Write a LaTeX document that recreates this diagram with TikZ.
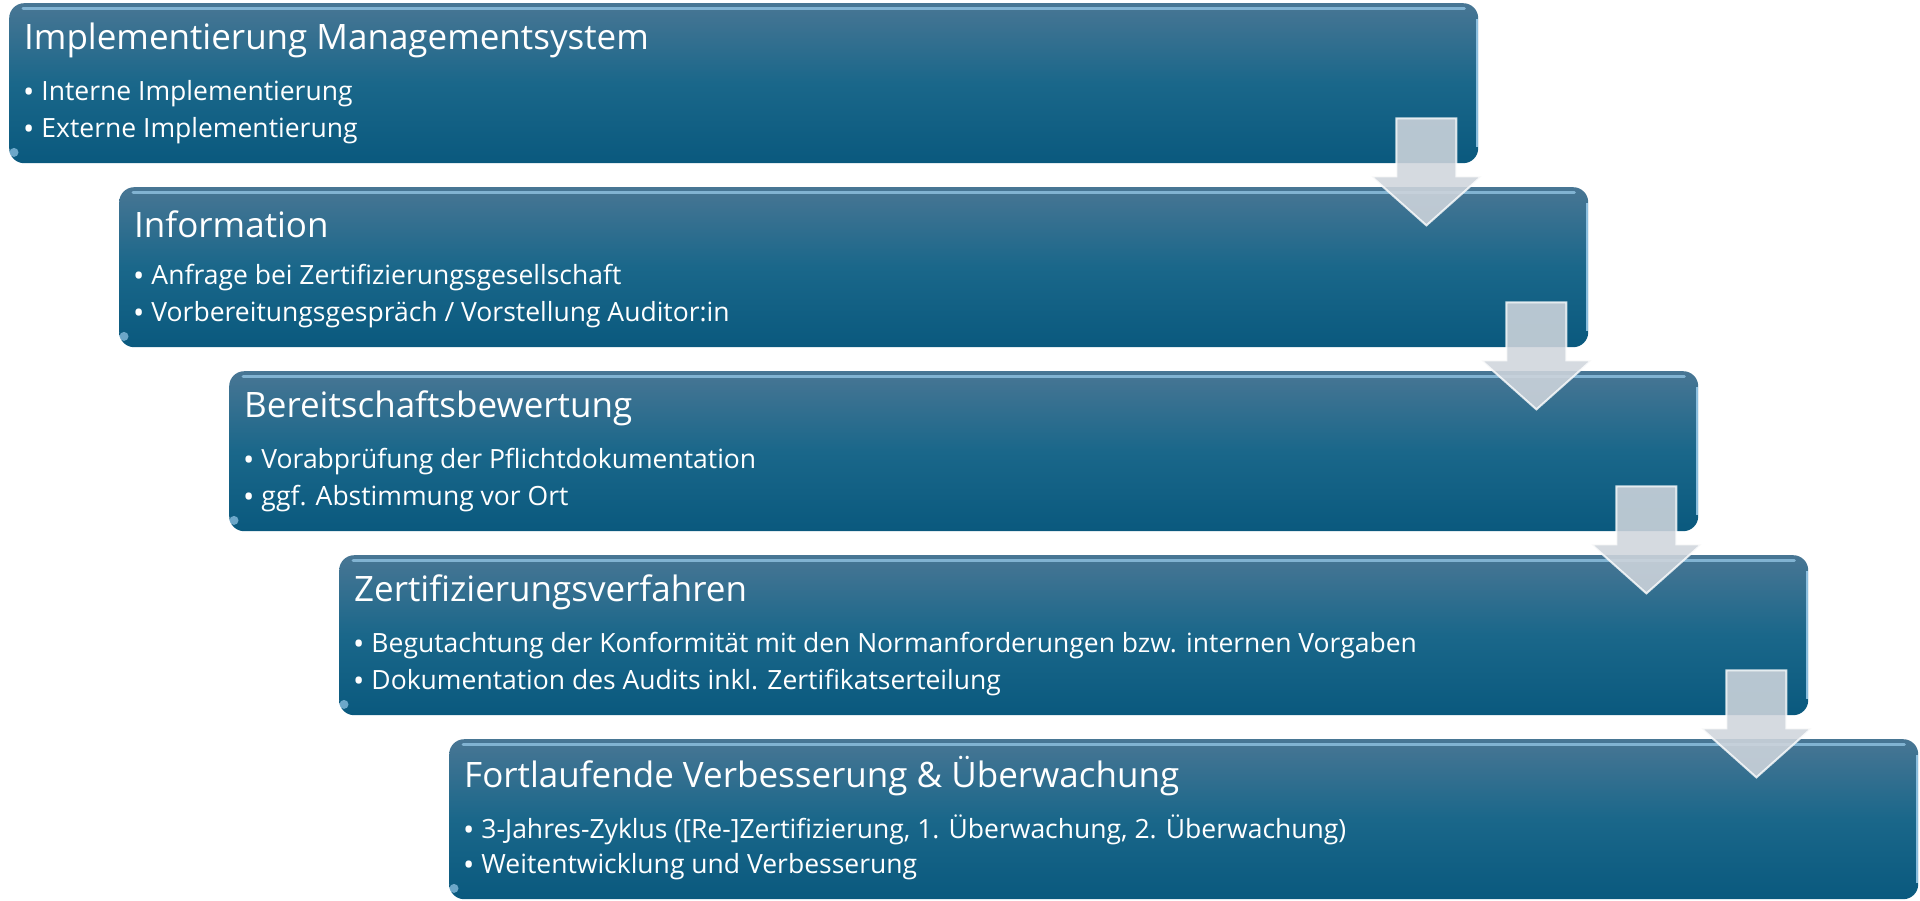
\documentclass[tikz,border=0pt]{standalone}
\usepackage{fontspec}
\setmainfont{Open Sans}
\usetikzlibrary{calc}
\definecolor{boxtop}{RGB}{72,118,148}
\definecolor{boxmid}{RGB}{26,103,138}
\definecolor{boxbot}{RGB}{10,89,126}
\definecolor{arrowfill}{RGB}{207,213,220}
\definecolor{hilite}{RGB}{150,200,232}
\newcommand{\bul}{{\fontsize{30}{30}\selectfont\raisebox{-1.5pt}{\textbullet}}\hspace{7pt}}
\begin{document}
\begin{tikzpicture}[x=1pt,y=-1pt,
  stagebox/.style={draw=none, rounded corners=15pt, minimum width=1469pt,
    minimum height=160pt, anchor=north west, inner sep=0pt,
    top color=boxtop, bottom color=boxbot, middle color=boxmid},
  titletext/.style={anchor=west, inner sep=0pt, text=white, font=\fontsize{35}{40}\selectfont},
  bullettext/.style={anchor=west, inner sep=0pt, text=white, font=\fontsize{26.5}{30}\selectfont},
  blockarrow/.style={fill=arrowfill, fill opacity=0.88, draw=white, draw opacity=0.8,
    line width=2pt, line join=miter},
  topline/.style={hilite, line width=3pt, opacity=0.75, line cap=round},
  sideline/.style={hilite, line width=1.5pt, opacity=0.9}
]
\useasboundingbox (0,0) rectangle (1920,900);

\node[stagebox] (b1) at (9,3) {};
\node[stagebox] (b2) at (119,187) {};
\node[stagebox] (b3) at (229,371) {};
\node[stagebox] (b4) at (339,555) {};
\node[stagebox] (b5) at (449,739) {};

\foreach \b in {b1,b2,b3,b4,b5}{
  \draw[topline] ($(\b.north west)+(14,5)$) -- ($(\b.north east)+(-14,5)$);
  \draw[sideline] ($(\b.north east)+(-1.5,16)$) -- ($(\b.south east)+(-1.5,-16)$);
  \fill[hilite, opacity=0.7] ($(\b.south west)+(5,-11)$) circle (4.5pt);
}

\node[titletext] (t1) at ($(b1.north west)+(15,37)$) {Implementierung Managementsystem};
\node[bullettext] (t1a) at ($(b1.north west)+(14,91)$) {\bul Interne Implementierung};
\node[bullettext] (t1b) at ($(b1.north west)+(14,128)$) {\bul Externe Implementierung};

\node[titletext] (t2) at ($(b2.north west)+(15,37)$) {Information};
\node[bullettext] (t2a) at ($(b2.north west)+(14,91)$) {\bul Anfrage bei Zertifizierungsgesellschaft};
\node[bullettext] (t2b) at ($(b2.north west)+(14,128)$) {\bul Vorbereitungsgespräch / Vorstellung Auditor:in};

\node[titletext] (t3) at ($(b3.north west)+(15,37)$) {Bereitschaftsbewertung};
\node[bullettext] (t3a) at ($(b3.north west)+(14,91)$) {\bul Vorabprüfung der Pflichtdokumentation};
\node[bullettext] (t3b) at ($(b3.north west)+(14,128)$) {\bul ggf. Abstimmung vor Ort};

\node[titletext] (t4) at ($(b4.north west)+(15,37)$) {Zertifizierungsverfahren};
\node[bullettext] (t4a) at ($(b4.north west)+(14,91)$) {\bul Begutachtung der Konformität mit den Normanforderungen bzw. internen Vorgaben};
\node[bullettext] (t4b) at ($(b4.north west)+(14,128)$) {\bul Dokumentation des Audits inkl. Zertifikatserteilung};

\node[titletext] (t5) at ($(b5.north west)+(15,37)$) {Fortlaufende Verbesserung \& Überwachung};
\node[bullettext] (t5a) at ($(b5.north west)+(14,91)$) {\bul 3-Jahres-Zyklus ([Re-]Zertifizierung, 1. Überwachung, 2. Überwachung)};
\node[bullettext] (t5b) at ($(b5.north west)+(14,128)$) {\bul Weitentwicklung und Verbesserung};

\foreach \b in {b1,b2,b3,b4}{
  \path[blockarrow] ($(\b.south east)+(-82,-45)$) -- ++(60,0) -- ++(0,58) -- ++(25,0)
    -- ($(\b.south east)+(-52,62)$) -- ($(\b.south east)+(-107,13)$) -- ++(25,0) -- cycle;
}
\end{tikzpicture}
\end{document}
